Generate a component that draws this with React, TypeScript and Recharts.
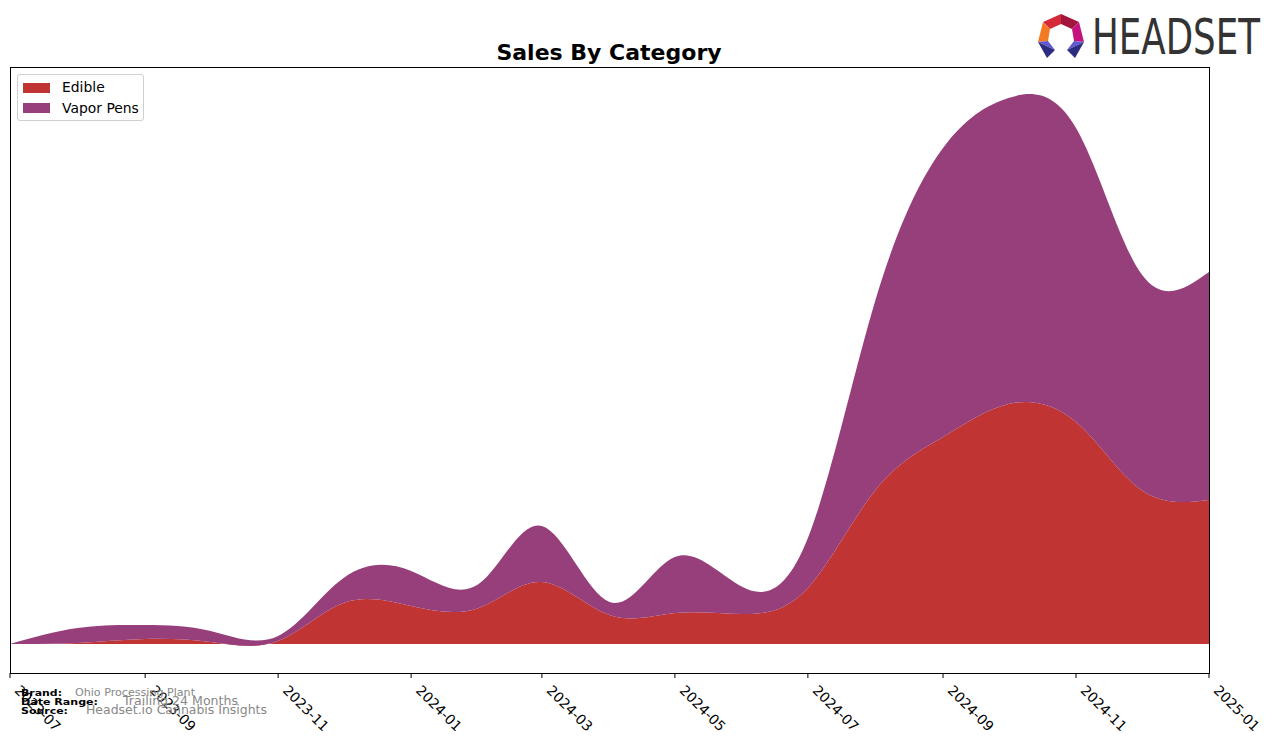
import React from 'react';
import { AreaChart, Area, XAxis, YAxis, Legend } from 'recharts';

// monthly sales by category (arbitrary units, y axis hidden)
const months = [
  '2023-07', '2023-08', '2023-09', '2023-10', '2023-11', '2023-12',
  '2024-01', '2024-02', '2024-03', '2024-04', '2024-05', '2024-06',
  '2024-07', '2024-08', '2024-09', '2024-10', '2024-11', '2024-12', '2025-01',
];
const edible = [0, 1, 5, 2, 3, 41, 38, 36, 62, 29, 31, 30, 56, 154, 207, 240, 222, 154, 144];
const vaporPens = [0, 15, 14, 11, 5, 25, 35, 24, 56, 13, 56, 27, 50, 190, 289, 306, 294, 216, 228];
const tickMonths = ['2023-07', '2023-09', '2023-11', '2024-01', '2024-03', '2024-05', '2024-07', '2024-09', '2024-11', '2025-01'];

const EDIBLE_COLOR = '#c13434';
const VAPOR_COLOR = '#963f7a';
const FONT = '"DejaVu Sans", sans-serif';

const toTs = (m: string) => {
  const [y, mo] = m.split('-').map(Number);
  return Date.UTC(y, mo - 1, 1);
};

const data = months.map((m, i) => ({ t: toTs(m), edible: edible[i], vapor: vaporPens[i] }));
const ticks = tickMonths.map(toTs);
const labelFor = (t: number) => tickMonths[ticks.indexOf(t)] ?? '';

const RotatedTick = (props: any) => {
  const { x, y, payload } = props;
  const x0 = x + 11;
  const y0 = y + 4;
  return (
    <text
      x={x0}
      y={y0}
      dy="0.73em"
      transform={`rotate(45 ${x0} ${y0})`}
      textAnchor="start"
      fontSize={13.9}
      fontFamily={FONT}
      fill="#000"
    >
      {labelFor(payload.value)}
    </text>
  );
};

const legendItems = [
  { name: 'Edible', color: EDIBLE_COLOR },
  { name: 'Vapor Pens', color: VAPOR_COLOR },
];

const LegendBox = () => (
  <div
    style={{
      position: 'relative',
      border: '1px solid #d0d0d0',
      borderRadius: 3,
      background: '#fff',
      fontFamily: FONT,
      fontSize: 13.9,
      width: 127,
      height: 47,
      boxSizing: 'border-box',
    }}
  >
    {legendItems.map((item, i) => (
      <React.Fragment key={item.name}>
        <span
          style={{
            position: 'absolute',
            left: 5,
            top: 8 + i * 20,
            width: 27,
            height: 10,
            background: item.color,
          }}
        />
        <span style={{ position: 'absolute', left: 44, top: 4 + i * 20.5, lineHeight: '17px', color: '#000' }}>
          {item.name}
        </span>
      </React.Fragment>
    ))}
  </div>
);

const Logo = () => (
  <g>
    <polygon points="1043,22 1061,14 1061,24 1050,29" fill="#d42a3a" />
    <polygon points="1061,14 1079,22 1072,29 1061,24" fill="#a3173f" />
    <polygon points="1043,22 1050,29 1048,41 1038,42" fill="#f37a22" />
    <polygon points="1079,22 1084,42 1074,41 1072,29" fill="#c4137e" />
    <polygon points="1038,42 1048,41 1055,50" fill="#6159d0" />
    <polygon points="1038,42 1055,50 1047,58" fill="#2c2d80" />
    <polygon points="1084,42 1074,41 1067,50" fill="#6159d0" />
    <polygon points="1084,42 1067,50 1075,58" fill="#2c2d80" />
    <text
      x={1092}
      y={54}
      fontSize={50}
      fontFamily={FONT}
      fill="#333"
      textLength={168}
      lengthAdjust="spacingAndGlyphs"
    >
      HEADSET
    </text>
  </g>
);

export default function App() {
  return (
    <div style={{ position: 'absolute', left: 0, top: 0, width: 1276, height: 743, background: '#fff' }}>
      <AreaChart
        width={1276}
        height={743}
        data={data}
        margin={{ top: 67, right: 67, left: 10, bottom: 0 }}
      >
        <XAxis
          dataKey="t"
          type="number"
          domain={[ticks[0], ticks[ticks.length - 1]]}
          ticks={ticks}
          height={70}
          axisLine={false}
          tickLine={{ stroke: '#000' }}
          tickSize={5}
          tickMargin={2}
          tick={<RotatedTick />}
          interval={0}
        />
        <YAxis hide domain={[-29, 577]} allowDataOverflow />
        <Legend
          layout="horizontal"
          verticalAlign="middle"
          align="center"
          content={<LegendBox />}
          wrapperStyle={{ position: 'absolute', left: 17, top: 74, width: 'auto' }}
        />
        <Area
          type="natural"
          dataKey="edible"
          stackId="1"
          fill={EDIBLE_COLOR}
          fillOpacity={1}
          stroke="none"
          isAnimationActive={false}
        />
        <Area
          type="natural"
          dataKey="vapor"
          stackId="1"
          fill={VAPOR_COLOR}
          fillOpacity={1}
          stroke="none"
          isAnimationActive={false}
        />
      </AreaChart>
      <div
        style={{
          position: 'absolute',
          left: 10,
          top: 67,
          width: 1200,
          height: 607,
          border: '1px solid #000',
          boxSizing: 'border-box',
          pointerEvents: 'none',
        }}
      />
      <svg
        width={1276}
        height={743}
        style={{ position: 'absolute', left: 0, top: 0, pointerEvents: 'none' }}
      >
        <text x={609} y={60} textAnchor="middle" fontSize={22} fontWeight="bold" fontFamily={FONT} fill="#000">
          Sales By Category
        </text>
        <Logo />
        <g fontFamily={FONT}>
          <text x={21} y={696} fontSize={9.5} fontWeight="bold" fill="#000" textLength={41} lengthAdjust="spacingAndGlyphs">Brand:</text>
          <text x={75} y={696} fontSize={10.5} fill="#888" textLength={120} lengthAdjust="spacingAndGlyphs">Ohio Processing Plant</text>
          <text x={21} y={705} fontSize={9.5} fontWeight="bold" fill="#000" textLength={77} lengthAdjust="spacingAndGlyphs">Date Range:</text>
          <text x={123} y={705} fontSize={13} fill="#888" textLength={115} lengthAdjust="spacingAndGlyphs">Trailing 24 Months</text>
          <text x={21} y={714} fontSize={9.5} fontWeight="bold" fill="#000" textLength={47} lengthAdjust="spacingAndGlyphs">Source:</text>
          <text x={86} y={714} fontSize={13} fill="#888" textLength={181} lengthAdjust="spacingAndGlyphs">Headset.io Cannabis Insights</text>
        </g>
      </svg>
    </div>
  );
}
